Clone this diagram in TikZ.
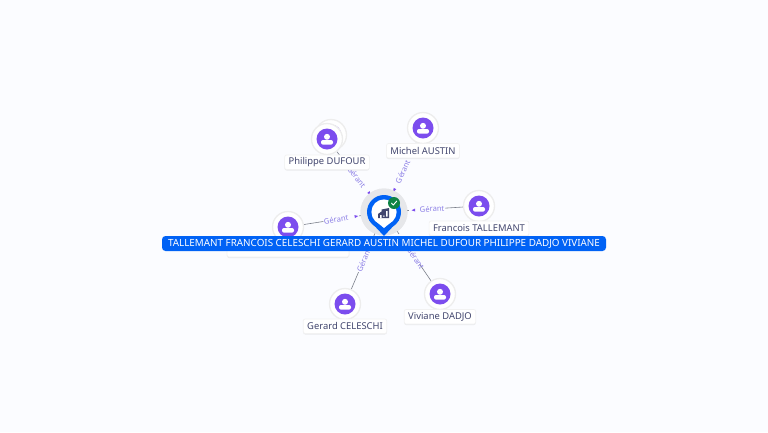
\documentclass[tikz,border=0pt]{standalone}
\usepackage{fontspec}
\setmainfont{Noto Sans}
\usetikzlibrary{positioning,backgrounds,shadows,shapes.geometric}
\definecolor{pagebg}{HTML}{FBFCFF}
\definecolor{pinblue}{HTML}{0062F5}
\definecolor{violetx}{HTML}{7C4DEE}
\definecolor{rolex}{HTML}{8C7FE6}
\definecolor{inkx}{HTML}{42466E}
\definecolor{linkx}{HTML}{7A7F8A}
\definecolor{haloz}{HTML}{E6E7EA}
\definecolor{okgreen}{HTML}{0E8345}

\begin{document}
\begin{tikzpicture}[x=1pt, y=-1pt,
  person/.style={circle, draw=black!7, line width=1.3pt, fill=white, minimum size=31pt, inner sep=0pt,
    path picture={
      \fill[violetx] (path picture bounding box.center) circle (10.5pt);
      \fill[white] ([yshift=2.2pt]path picture bounding box.center) circle (3pt);
      \fill[white, rounded corners=2pt] ([xshift=-6pt,yshift=-5.6pt]path picture bounding box.center) rectangle ([xshift=6pt,yshift=-1pt]path picture bounding box.center);
    }},
  namebox/.style={draw=black!5, line width=0.7pt, fill=white, rounded corners=2pt, inner xsep=4pt, inner ysep=0pt, minimum height=14.5pt, text=inkx,
    font=\fontsize{9.4}{11}\selectfont, drop shadow={opacity=.14, shadow xshift=0pt, shadow yshift=-1pt}},
  link/.style={draw=linkx, line width=0.6pt},
  gapbox/.style={sloped, fill=pagebg, minimum width=36pt, minimum height=8pt, inner sep=0pt},
  roletext/.style={sloped, text=rolex, inner sep=0pt, font=\fontsize{7.6}{9}\selectfont},
  tipmark/.style={sloped, allow upside down, isosceles triangle, shape border rotate=180, fill=violetx, inner sep=0pt, minimum size=3pt},
  banner/.style={fill=pinblue, rounded corners=3.5pt, text=white, inner xsep=4pt, inner ysep=0pt, minimum width=444pt, minimum height=15pt,
    font=\fontsize{9.85}{11}\selectfont}]
  \useasboundingbox (0,0) rectangle (768,432);

  \node[circle, fill=haloz, minimum size=47pt, inner sep=0pt] (hub) at (384,212) {};
  \node[circle, fill=pinblue, minimum size=34pt, inner sep=0pt] (pin) at (hub) {};
  \node[person] (philippeback) at (331,135) {};
  \node[person] (philippe) at (327,139) {};
  \node[person] (michel) at (423,128) {};
  \node[person] (francois) at (479,206) {};
  \node[person] (hidden) at (288,227) {};
  \node[person] (gerard) at (345,304) {};
  \node[person] (viviane) at (440,294) {};

  \node[namebox, below=-0.5pt of philippe] (philippename) {Philippe DUFOUR};
  \node[namebox, below=-1pt of michel] (michelname) {Michel AUSTIN};
  \node[namebox, below=-1.5pt of francois] (francoisname) {Francois TALLEMANT};
  \node[namebox, minimum width=122pt, below=-1pt of hidden] (hiddenname) {};
  \node[namebox, below=-1.5pt of gerard] (gerardname) {Gerard CELESCHI};
  \node[namebox, below=-1pt of viviane] (vivianename) {Viviane DADJO};

  \fill[pinblue] (369,220) -- (384,236) -- (399,220) -- cycle;
  \fill[white] (384,212) circle (12.6pt);
  \fill[white] (375.5,221) -- (384,228) -- (392.5,221) -- cycle;
  \fill[inkx] (378,214) -- (381.5,211.5) -- (381.5,209.5) -- (389,208) -- (389,218) -- (378,218) -- cycle;
  \fill[white] (380,215) rectangle (381.5,218) (383,215.5) rectangle (384.5,216.5) (386,211) rectangle (387.6,216.5);
  \node[circle, fill=okgreen, minimum size=12pt, inner sep=0pt] (badge) at (394,203) {};
  \draw[white, line width=0.9pt] (391.4,203) -- (393.3,205) -- (396.8,201);

  \begin{pgfonlayer}{background}
    \fill[pagebg] (0,0) rectangle (768,432);
    \fill[haloz] (hub) circle (23.5pt);
    \draw[link] (pin) -- node[gapbox, pos=.42]{} node[roletext, pos=.46]{Gérant} node[tipmark, pos=.12]{} (philippe);
    \draw[link] (pin) -- node[gapbox, pos=.42]{} node[roletext, pos=.46]{Gérant} node[tipmark, pos=.13]{} (michel);
    \draw[link] (pin) -- node[gapbox, pos=.42]{} node[roletext, pos=.50]{Gérant} node[tipmark, pos=.21]{} (francois);
    \draw[link] (pin) -- node[gapbox, pos=.41]{} node[roletext, pos=.49]{Gérant} node[tipmark, pos=.18]{} (hidden);
    \draw[link] (pin) -- node[gapbox, pos=.45]{} node[roletext, pos=.52]{Gérant} (gerard);
    \draw[link] (pin) -- node[gapbox, pos=.42]{} node[roletext, pos=.59]{Gérant} (viviane);
  \end{pgfonlayer}

  \node[banner] (title) at (384,243.5) {TALLEMANT FRANCOIS CELESCHI GERARD AUSTIN MICHEL DUFOUR PHILIPPE DADJO VIVIANE};
\end{tikzpicture}
\end{document}
